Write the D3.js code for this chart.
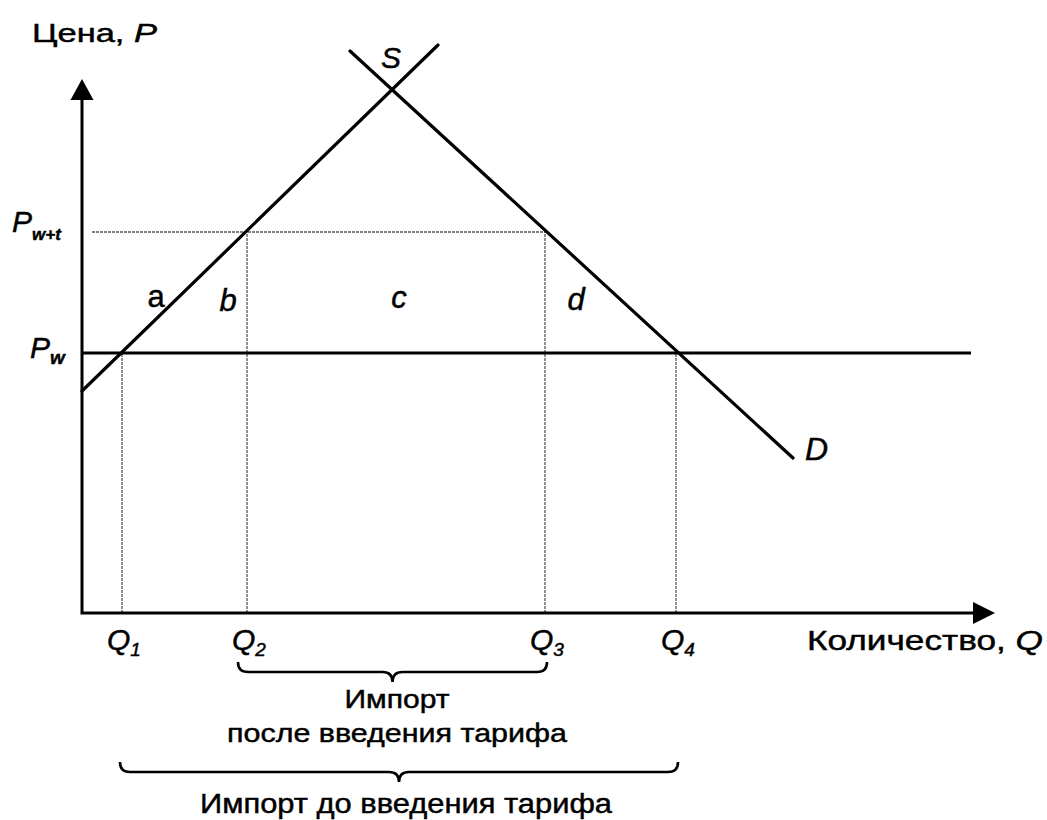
<!DOCTYPE html>
<html lang="ru">
<head>
<meta charset="UTF-8">
<script src="https://cdn.jsdelivr.net/npm/d3@7"></script>
<title>Тариф</title>
<style>
    body { margin: 0; background: white; }
    svg { display: block; }
    text { font-family: "Liberation Sans", Arial, sans-serif; fill: black; stroke: black; stroke-width: 0.45; }
    .curve { stroke: black; stroke-width: 3.2; fill: none; stroke-linecap: round; }
    .axis { stroke: black; stroke-width: 3; fill: none; }
    .guide { stroke: #555; stroke-width: 1.3; stroke-dasharray: 3 1; fill: none; }
    .brace { stroke: black; stroke-width: 2.6; fill: none; }
</style>
</head>
<body>
<div id="chart"></div>
<script>
    // values (price/quantity units)
    const qNames = ["1", "2", "3", "4"];
    const qValues = [4.0, 16.5, 46.3, 59.4];
    const pNames = ["w+t", "w"];
    const pValues = [38.1, 26.0];
    const supplyLine = [[0, 22.2], [35.6, 56.8]];
    const demandLine = [[26.8, 56.2], [71.1, 15.5]];
    const areaNames = ["a", "b", "c", "d"];
    const areaAt = [[7.4, 30.6], [14.6, 30.2], [31.7, 30.5], [49.4, 30.3]];

    const W = 1047, H = 820;
    const svg = d3.select("#chart").append("svg")
        .attr("width", W).attr("height", H);

    const x = d3.scaleLinear().domain([0, 100]).range([82, 1082]);
    const y = d3.scaleLinear().domain([0, 60]).range([613, 13]);
    const line = d3.line().x(d => x(d[0])).y(d => y(d[1]));

    // guides (thin)
    const Pwt = pValues[0], Pw = pValues[1];
    svg.append("path").attr("class", "guide")
        .attr("d", line([[1.0, Pwt], [qValues[2], Pwt]]))
        .style("stroke-dasharray", null).style("stroke-width", 1.6);
    const guideTop = [Pw, Pwt, Pwt, Pw];
    qValues.forEach((q, i) => {
        svg.append("path").attr("class", "guide")
            .attr("d", line([[q, 0], [q, guideTop[i]]]));
    });

    // axes
    svg.append("path").attr("class", "axis").attr("d", line([[0, 53.0], [0, 0], [90, 0]]));
    svg.append("path").attr("d", `M${x(0)},${y(53.4)} L${x(0) - 11.5},${y(51.3)} L${x(0) + 11.5},${y(51.3)} Z`);
    svg.append("path").attr("d", `M${x(91.3)},${y(0)} L${x(89.1)},${y(0) - 11} L${x(89.1)},${y(0) + 11} Z`);

    // world price line
    svg.append("path").attr("class", "axis").attr("d", line([[0, Pw], [88.9, Pw]]));

    // supply & demand
    svg.append("path").attr("class", "curve").attr("d", line(supplyLine));
    svg.append("path").attr("class", "curve").attr("d", line(demandLine));

    // labels
    const t = (px, py, str, size, opts = {}) => {
        const el = svg.append("text").attr("x", px).attr("y", py)
            .style("font-size", size + "px")
            .attr("text-anchor", opts.anchor || "start")
            .text(str);
        if (opts.italic) el.style("font-style", "italic");
        if (opts.len) el.attr("textLength", opts.len).attr("lengthAdjust", "spacingAndGlyphs");
        return el;
    };

    const yl = t(32, 42, "Цена, ", 25, { len: 125 });
    yl.append("tspan").style("font-style", "italic").text("P");

    const xl = t(807, 650, "Количество, ", 28, { len: 236 });
    xl.append("tspan").style("font-style", "italic").text("Q");

    t(x(30.9), y(54.5), "S", 30, { anchor: "middle", italic: true });
    t(x(72.3), y(15.3), "D", 32, { italic: true });

    areaNames.forEach((n, i) => {
        t(x(areaAt[i][0]), y(areaAt[i][1]), n, 31, { anchor: "middle", italic: n !== "a" });
    });

    // price labels
    const pLabelX = [12, 30];
    pNames.forEach((n, i) => {
        const el = t(pLabelX[i], y(pValues[i]) + (i === 0 ? 0 : 5), "P", 30, { italic: true });
        el.append("tspan").attr("dy", i === 0 ? 8 : 6)
            .style("font-size", i === 0 ? "17px" : "19px")
            .style("font-weight", "bold").text(n);
    });

    // quantity labels
    qValues.forEach((q, i) => {
        const el = t(x(q) - 15, 650, "Q", 30, { italic: true });
        el.append("tspan").attr("dy", 6).style("font-size", "19px").text(qNames[i]);
    });

    // braces
    const brace = (xa, xb, ytop, depth) => {
        const xm = (xa + xb) / 2, yh = ytop + 10, r = 10;
        return `M${xa},${ytop} Q${xa},${yh} ${xa + r},${yh} L${xm - r},${yh} ` +
            `Q${xm},${yh} ${xm},${yh + depth} Q${xm},${yh} ${xm + r},${yh} ` +
            `L${xb - r},${yh} Q${xb},${yh} ${xb},${ytop}`;
    };
    svg.append("path").attr("class", "brace").attr("d", brace(x(qValues[1]) - 9, x(qValues[2]) + 2, 662, 10));
    svg.append("path").attr("class", "brace").attr("d", brace(x(qValues[0]) - 2, x(qValues[3]) + 2, 762, 10));

    t(397, 708, "Импорт", 26, { anchor: "middle", len: 105 });
    t(397, 742, "после введения тарифа", 26, { anchor: "middle", len: 340 });
    t(406, 813, "Импорт до введения тарифа", 27, { anchor: "middle", len: 412 });
</script>
</body>
</html>
